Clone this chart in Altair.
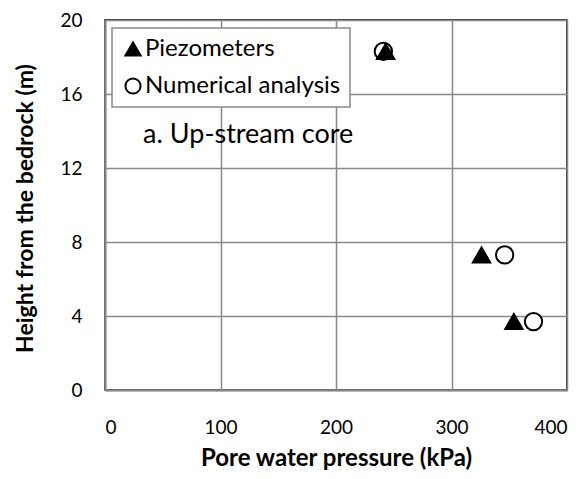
import altair as alt
import pandas as pd

# Data
series = ["Numerical analysis", "Numerical analysis", "Numerical analysis",
          "Piezometers", "Piezometers", "Piezometers"]
pressure = [241, 346, 371, 243, 326, 354]
height = [18.3, 7.3, 3.7, 18.3, 7.3, 3.7]

note_text = ["a. Up-stream core"]
note_x = [33]
note_y = [13.8]

x_ticks = [0, 100, 200, 300, 400]
y_ticks = [0, 4, 8, 12, 16, 20]

df = pd.DataFrame({"series": series, "pressure": pressure, "height": height})
notes = pd.DataFrame({"t": note_text, "x": note_x, "y": note_y})

FONT = "Lato"
GRID = "#898989"

xscale = alt.Scale(domain=[0, 400], nice=False, zero=False)
yscale = alt.Scale(domain=[0, 20], nice=False, zero=False)

xaxis = alt.Axis(values=x_ticks, title="Pore water pressure (kPa)", ticks=False, tickSize=0,
                 labelPadding=37, labelBaseline="middle", labelFontSize=19,
                 titleX=231, titleY=75, titleBaseline="alphabetic", titleFontSize=24,
                 titleFontWeight="bold")
yaxis = alt.Axis(values=y_ticks, title="Height from the bedrock (m)", ticks=False, tickSize=0,
                 labelPadding=23, labelBaseline="middle", labelFontSize=19,
                 titleX=-80, titleY=188, titleBaseline="middle", titleAlign="center",
                 titleFontSize=23, titleFontWeight="bold")

dom = ["Piezometers", "Numerical analysis"]

points = alt.Chart(df).mark_point(filled=True, strokeWidth=2, size=300, opacity=1).encode(
    x=alt.X("pressure:Q", scale=xscale, axis=xaxis),
    y=alt.Y("height:Q", scale=yscale, axis=yaxis),
    shape=alt.Shape("series:N", scale=alt.Scale(domain=dom, range=["triangle-up", "circle"]),
                    legend=alt.Legend(title=None)),
    fill=alt.Fill("series:N", scale=alt.Scale(domain=dom, range=["black", "white"]),
                  legend=alt.Legend(title=None)),
    stroke=alt.Stroke("series:N", scale=alt.Scale(domain=dom, range=["black", "black"]),
                      legend=alt.Legend(title=None)),
)

note = alt.Chart(notes).mark_text(align="left", baseline="middle", font=FONT, fontSize=27,
                                   color="black").encode(
    x=alt.X("x:Q", scale=xscale),
    y=alt.Y("y:Q", scale=yscale),
    text="t:N",
)

chart = alt.layer(points, note).properties(
    width=462, height=370,
    autosize=alt.AutoSizeParams(type="none"),
    padding={"left": 97, "top": 12, "right": 10, "bottom": 81},
).configure_view(
    stroke="black", strokeWidth=1.5
).configure_axis(
    labelFont=FONT, titleFont=FONT, labelColor="black", titleColor="black",
    gridColor=GRID, gridWidth=1.5, gridOpacity=1,
    domainColor=GRID, domainWidth=2,
).configure_legend(
    orient="none", legendX=7, legendY=8,
    strokeColor=GRID, strokeWidth=1.5, fillColor="white",
    padding=9, labelFont=FONT, labelFontSize=24, labelColor="black",
    labelLimit=400,
    symbolSize=230, symbolStrokeWidth=2,
    rowPadding=13, labelOffset=0, symbolOpacity=1,
)

chart.save("out.html", embed_options={"renderer": "svg", "actions": False})
